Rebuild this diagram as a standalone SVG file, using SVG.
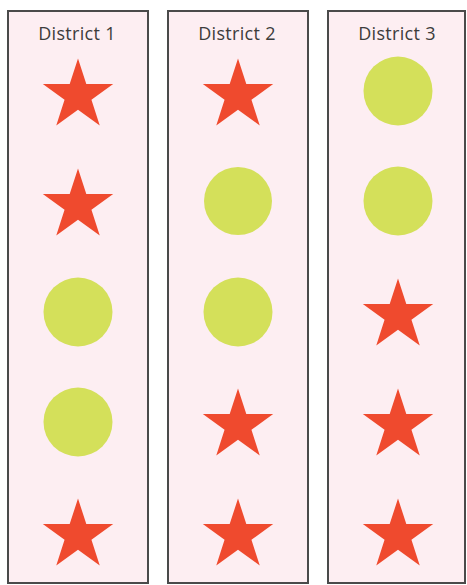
<svg xmlns="http://www.w3.org/2000/svg" width="467" height="585" viewBox="0 0 467 585">
  <style>
    .box { fill: #fdeef2; stroke: #4a4a4a; stroke-width: 2; }
    .title { font-family: "Open Sans", "Liberation Sans", sans-serif; font-size: 18px; letter-spacing: 0.3px; fill: #3c3c3c; text-anchor: middle; }
    .star { fill: #ef4a2e; }
    .dot { fill: #d4e05a; }
  </style>
  <defs>
    <path id="star" d="M0,-33.5 L8.31,-7.93 L35.19,-7.93 L13.44,7.87 L21.75,33.43 L0,17.63 L-21.75,33.43 L-13.44,7.87 L-35.19,-7.93 L-8.31,-7.93 Z"/>
  </defs>
  <rect x="0" y="0" width="467" height="585" fill="#ffffff"/>
  <g id="district1">
    <rect class="box" x="8" y="11" width="140" height="572"/>
    <text class="title" x="77" y="40">District 1</text>
    <use href="#star" class="star" x="78" y="92"/>
    <use href="#star" class="star" x="78" y="202"/>
    <circle class="dot" cx="78" cy="312" r="34.5"/>
    <circle class="dot" cx="78" cy="422" r="34.5"/>
    <use href="#star" class="star" x="78" y="532"/>
  </g>
  <g id="district2">
    <rect class="box" x="168" y="11" width="140" height="572"/>
    <text class="title" x="237" y="40">District 2</text>
    <use href="#star" class="star" x="238" y="92"/>
    <circle class="dot" cx="238" cy="201" r="34"/>
    <circle class="dot" cx="238" cy="312" r="34.5"/>
    <use href="#star" class="star" x="238" y="422"/>
    <use href="#star" class="star" x="238" y="532"/>
  </g>
  <g id="district3">
    <rect class="box" x="328" y="11" width="137" height="572"/>
    <text class="title" x="397" y="40">District 3</text>
    <circle class="dot" cx="398" cy="91" r="34.5"/>
    <circle class="dot" cx="398" cy="201" r="34.5"/>
    <use href="#star" class="star" x="398" y="312"/>
    <use href="#star" class="star" x="398" y="422"/>
    <use href="#star" class="star" x="398" y="532"/>
  </g>
  <g id="connectors"/>
</svg>
